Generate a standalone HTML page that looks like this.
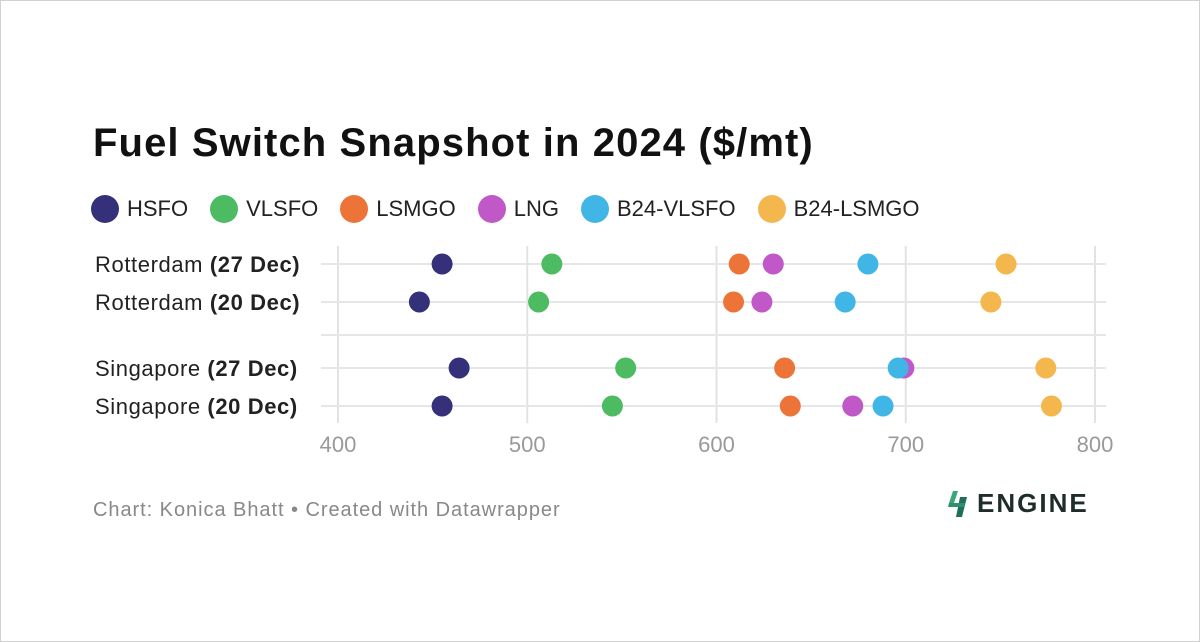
<!DOCTYPE html>
<html><head><meta charset="utf-8"><style>
body{margin:0;background:#fff;font-family:"Liberation Sans",sans-serif;}
#wrap{position:relative;width:1198px;height:640px;border:1px solid #d0d0d0;overflow:hidden;}
h1{position:absolute;left:92px;top:120px;margin:0;font-size:40px;font-weight:bold;color:#111;letter-spacing:1.1px;}
.leg{position:absolute;top:194px;left:90px;display:flex;gap:0;font-size:22px;color:#222;}
.li{display:flex;align-items:center;margin-right:22px;}
.dot{width:28px;height:28px;border-radius:50%;margin-right:8px;}
.foot{position:absolute;left:92px;top:498px;font-size:20px;color:#888;letter-spacing:0.95px;}
.logo{position:absolute;left:946px;top:487px;font-size:26px;font-weight:bold;color:#1e2d2a;letter-spacing:2px;display:flex;align-items:center;}
</style></head><body>
<div id="wrap">
<h1>Fuel Switch Snapshot in 2024 ($/mt)</h1>
<div class="leg">
<div class="li"><div class="dot" style="background:#34307a"></div>HSFO</div>
<div class="li"><div class="dot" style="background:#4cbb62"></div>VLSFO</div>
<div class="li"><div class="dot" style="background:#ec7439"></div>LSMGO</div>
<div class="li"><div class="dot" style="background:#c158c8"></div>LNG</div>
<div class="li"><div class="dot" style="background:#40b6e6"></div>B24-VLSFO</div>
<div class="li"><div class="dot" style="background:#f4b74d"></div>B24-LSMGO</div>
</div>
<svg id="plot" width="1198" height="640" style="position:absolute;left:0;top:0"></svg>
<div class="foot">Chart: Konica Bhatt • Created with Datawrapper</div>
<div class="logo"><svg width="22" height="26" viewBox="0 0 22 26"><polygon points="6,0 11,0 7,12 2,12" fill="#3aa77a"/><polygon points="13,6 20,6 15,26 9,26" fill="#1f6f5a"/><polygon points="2,12 18,12 17,16 1,16" fill="#2f8f6e"/></svg><span style="margin-left:8px">ENGINE</span></div>
</div>
<script>
const categories=["Rotterdam|27 Dec","Rotterdam|20 Dec","Singapore|27 Dec","Singapore|20 Dec"];
const seriesNames=["HSFO","VLSFO","LSMGO","LNG","B24-VLSFO","B24-LSMGO"];
const hsfo=[455,443,464,455];
const vlsfo=[513,506,552,545];
const lsmgo=[612,609,636,639];
const lng=[630,624,699,672];
const b24vlsfo=[680,668,696,688];
const b24lsmgo=[753,745,774,777];
const ticks=[400,500,600,700,800];

const allSeries=[hsfo,vlsfo,lsmgo,lng,b24vlsfo,b24lsmgo];
const colors=["#34307a","#4cbb62","#ec7439","#c158c8","#40b6e6","#f4b74d"];
const rowY=[263,301,367,405];
const x=v=>337+(v-400)*1.8925;
const svg=document.getElementById('plot');const NS="http://www.w3.org/2000/svg";
function mk(t,a){const e=document.createElementNS(NS,t);for(const k in a)e.setAttribute(k,a[k]);svg.appendChild(e);return e;}
ticks.forEach(t=>{const l=mk('line',{x1:x(t),x2:x(t),y1:245,y2:422,stroke:'#e2e2e2','stroke-width':2});


const tx=mk('text',{x:x(t),y:451,'text-anchor':'middle','font-size':22,fill:'#999','font-family':'Liberation Sans'});tx.textContent=t;

});
const sep=mk('line',{x1:320,x2:1105,y1:334,y2:334,stroke:'#e6e6e6','stroke-width':2});


categories.forEach((c,i)=>{const y=rowY[i];
const l=mk('line',{x1:320,x2:1105,y1:y,y2:y,stroke:'#e6e6e6','stroke-width':2});


const parts=c.split('|');
const t=mk('text',{x:94,y:y+8,'text-anchor':'start','font-size':22,fill:'#222','font-family':'Liberation Sans','letter-spacing':'0.6'});
t.innerHTML=parts[0]+' <tspan font-weight="bold">('+parts[1]+')</tspan>';


allSeries.forEach((s,j)=>{const d=mk('circle',{cx:x(s[i]),cy:y,r:10.5,fill:colors[j]});

});});
</script>
</body></html>
